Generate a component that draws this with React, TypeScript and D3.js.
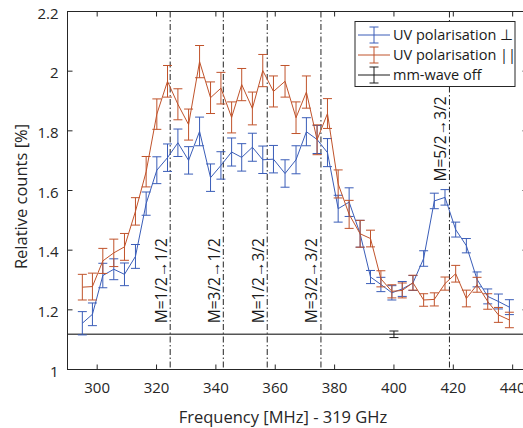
import React from "react";
import * as d3 from "d3";

const freqs = [295.0, 298.4, 301.9, 305.6, 309.2, 312.9, 316.5, 320.1, 323.7, 327.2, 330.8, 334.5, 338.2, 341.7, 345.3, 348.7, 352.3, 355.8, 359.4, 363.3, 367.0, 370.5, 374.1, 377.6, 381.2, 384.9, 388.6, 392.1, 395.6, 399.3, 402.8, 406.4, 410.0, 413.6, 417.2, 420.8, 424.4, 428.0, 431.6, 435.2, 438.9];

const perpValues = [1.155, 1.185, 1.315, 1.336, 1.319, 1.379, 1.556, 1.668, 1.71, 1.76, 1.701, 1.798, 1.643, 1.684, 1.729, 1.711, 1.745, 1.703, 1.705, 1.657, 1.703, 1.797, 1.771, 1.727, 1.539, 1.561, 1.455, 1.31, 1.285, 1.257, 1.27, 1.29, 1.372, 1.565, 1.577, 1.469, 1.415, 1.302, 1.245, 1.228, 1.209];
const perpErrors = [0.039, 0.038, 0.041, 0.035, 0.038, 0.04, 0.039, 0.045, 0.046, 0.046, 0.046, 0.048, 0.046, 0.046, 0.047, 0.046, 0.047, 0.046, 0.046, 0.046, 0.047, 0.047, 0.047, 0.047, 0.045, 0.048, 0.045, 0.022, 0.024, 0.024, 0.025, 0.025, 0.026, 0.026, 0.026, 0.025, 0.024, 0.025, 0.025, 0.025, 0.025];

const parValues = [1.276, 1.278, 1.364, 1.391, 1.411, 1.53, 1.663, 1.856, 1.966, 1.889, 1.821, 2.032, 1.911, 1.943, 1.845, 1.955, 1.875, 2.002, 1.932, 1.966, 1.844, 1.93, 1.77, 1.858, 1.622, 1.52, 1.455, 1.439, 1.304, 1.262, 1.265, 1.291, 1.233, 1.235, 1.288, 1.321, 1.238, 1.284, 1.228, 1.183, 1.166];
const parErrors = [0.043, 0.045, 0.042, 0.046, 0.045, 0.046, 0.051, 0.051, 0.053, 0.052, 0.052, 0.054, 0.053, 0.053, 0.052, 0.054, 0.055, 0.054, 0.052, 0.053, 0.053, 0.054, 0.05, 0.05, 0.047, 0.047, 0.045, 0.028, 0.027, 0.022, 0.025, 0.025, 0.021, 0.022, 0.022, 0.028, 0.028, 0.025, 0.026, 0.025, 0.026];

const offFreq = [400];
const offValue = [1.118];
const offError = [0.011];

const transitionFreqs = [324.6, 342.5, 357.3, 375.4, 418.7];
const transitionLabels = ["M=1/2\u21921/2", "M=3/2\u21921/2", "M=1/2\u21923/2", "M=3/2\u21923/2", "M=5/2\u21923/2"];
const transitionLabelY = [1.155, 1.155, 1.155, 1.155, 1.63];

const xTicks = [300, 320, 340, 360, 380, 400, 420, 440];
const yTicks = [1, 1.2, 1.4, 1.6, 1.8, 2, 2.2];
const yTickLabels = ["1", "1.2", "1.4", "1.6", "1.8", "2", "2.2"];

const seriesNames = ["UV polarisation \u22a5", "UV polarisation ||", "mm-wave off"];

const BLUE = "#3a5db8";
const RED = "#c0532b";
const BLACK = "#1a1a1a";
const FONT = "'Open Sans', 'Noto Sans', sans-serif";

export default function App() {
  const W = 523, H = 428;
  const left = 67.5, right = 527.5, top = 11.5, bottom = 369.5;
  const x = d3.scaleLinear().domain([290, 445]).range([left, right]);
  const y = d3.scaleLinear().domain([1, 2.2]).range([bottom, top]);
  const line = d3.line<number>().x((_, i) => x(freqs[i])).y((v) => y(v));
  const cap = 4.5;

  const errorBars = (vals: number[], errs: number[], color: string) =>
    vals.map((v, i) => {
      const cx = x(freqs[i]);
      const y1 = y(v + errs[i]);
      const y2 = y(v - errs[i]);
      return (
        <g key={i} stroke={color} strokeWidth={1}>
          <line x1={cx} x2={cx} y1={y1} y2={y2} />
          <line x1={cx - cap} x2={cx + cap} y1={y1} y2={y1} />
          <line x1={cx - cap} x2={cx + cap} y1={y2} y2={y2} />
        </g>
      );
    });

  const legendX = 355, legendY = 21.5, legendW = 160, legendH = 65;
  const legendColors = [BLUE, RED, BLACK];

  return (
    <svg width={W} height={H} style={{ position: "absolute", left: 0, top: 0, background: "#fff" }} fontFamily={FONT}>
      <rect x={0} y={0} width={W} height={H} fill="#fff" />
      {transitionFreqs.map((f, i) => (
        <g key={"t" + i}>
          <line x1={x(f)} x2={x(f)} y1={top} y2={bottom} stroke="#222" strokeWidth={1} strokeDasharray="6,2.5,1.5,2.5" />
          <text
            transform={`translate(${x(f) - 3.5},${y(transitionLabelY[i])}) rotate(-90)`}
            fontSize={15.5}
            fill="#1a1a1a"
          >
            {transitionLabels[i]}
          </text>
        </g>
      ))}
      <line x1={left} x2={right} y1={y(offValue[0])} y2={y(offValue[0])} stroke="#555" strokeWidth={1.4} />
      {offFreq.map((f, i) => (
        <g key={"o" + i} stroke={BLACK} strokeWidth={1}>
          <line x1={x(f)} x2={x(f)} y1={y(offValue[i] + offError[i])} y2={y(offValue[i] - offError[i])} />
          <line x1={x(f) - cap} x2={x(f) + cap} y1={y(offValue[i] + offError[i])} y2={y(offValue[i] + offError[i])} />
          <line x1={x(f) - cap} x2={x(f) + cap} y1={y(offValue[i] - offError[i])} y2={y(offValue[i] - offError[i])} />
        </g>
      ))}
      <path d={line(perpValues) || ""} fill="none" stroke={BLUE} strokeWidth={1} />
      {errorBars(perpValues, perpErrors, BLUE)}
      <path d={line(parValues) || ""} fill="none" stroke={RED} strokeWidth={1} />
      {errorBars(parValues, parErrors, RED)}
      <rect x={left} y={top} width={right - left} height={bottom - top} fill="none" stroke="#262626" strokeWidth={1} />
      {xTicks.map((t) => (
        <g key={"xt" + t}>
          <line x1={x(t)} x2={x(t)} y1={bottom} y2={bottom - 5} stroke="#262626" />
          <line x1={x(t)} x2={x(t)} y1={top} y2={top + 5} stroke="#262626" />
          <text x={x(t)} y={393} textAnchor="middle" fontSize={15} fill="#262626">{t}</text>
        </g>
      ))}
      {yTicks.map((t, i) => (
        <g key={"yt" + t}>
          <line x1={left} x2={left + 5} y1={y(t)} y2={y(t)} stroke="#262626" />
          <line x1={right} x2={right - 5} y1={y(t)} y2={y(t)} stroke="#262626" />
          <text x={58.5} y={y(t) + 3} textAnchor="end" dominantBaseline="middle" fontSize={15} fill="#262626">{yTickLabels[i]}</text>
        </g>
      ))}
      <text x={283} y={423} textAnchor="middle" fontSize={16.5} fill="#262626">Frequency [MHz] - 319 GHz</text>
      <text transform={`translate(27,${(top + bottom) / 2 + 6}) rotate(-90)`} textAnchor="middle" fontSize={16.5} fill="#262626">Relative counts [%]</text>
      <rect x={legendX} y={legendY} width={legendW} height={legendH} fill="#fff" stroke="#262626" strokeWidth={1} />
      {seriesNames.map((name, i) => {
        const ly = legendY + 13.5 + i * 20;
        const c = legendColors[i];
        return (
          <g key={"l" + i}>
            <g stroke={c} strokeWidth={1}>
              <line x1={358} x2={390} y1={ly} y2={ly} />
              <line x1={374} x2={374} y1={ly - 8} y2={ly + 8} />
              <line x1={374 - cap} x2={374 + cap} y1={ly - 8} y2={ly - 8} />
              <line x1={374 - cap} x2={374 + cap} y1={ly + 8} y2={ly + 8} />
            </g>
            <text x={393} y={ly + 1} dominantBaseline="middle" fontSize={14.5} fill="#1a1a1a">{name}</text>
          </g>
        );
      })}
    </svg>
  );
}
